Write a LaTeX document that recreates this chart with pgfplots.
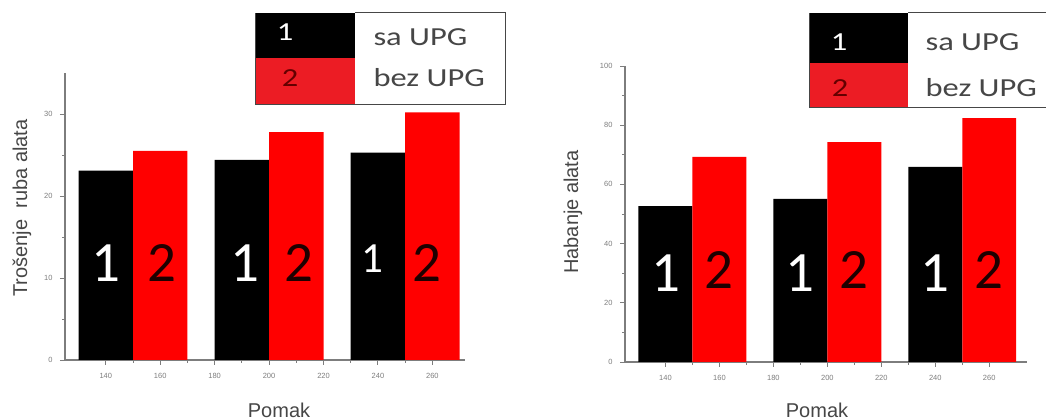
\documentclass[border=0pt]{standalone}
\usepackage{fontspec}
\setmainfont{Liberation Sans}
\newfontfamily\calf{Carlito}
\newfontfamily\calw{Carlito}[FakeStretch=1.25]
\usepackage{pgfplots}
\pgfplotsset{compat=1.18}
\definecolor{barred}{RGB}{255,0,0}
\definecolor{legred}{RGB}{236,28,36}
\definecolor{darkred}{RGB}{100,0,0}
\definecolor{digdark}{RGB}{30,0,0}
\definecolor{axgray}{RGB}{125,125,125}
\definecolor{labgray}{RGB}{70,70,70}
\pgfplotsset{mystyle/.style={
  scale only axis, anchor=south west,
  axis x line*=bottom, axis y line*=left,
  axis line style={axgray, line width=1.2pt},
  tick style={axgray, line width=0.9pt},
  tick align=outside,
  major tick length=5pt, minor tick length=3pt,
  xmin=125, xmax=272,
  xtick={140,160,...,260},
  minor x tick num=1,
  minor y tick num=1,
  tick label style={font=\fontsize{7.5}{8}\selectfont, text=axgray},
  xticklabel style={yshift=-5pt},
  yticklabel style={xshift=-4pt},
  /pgf/number format/assume math mode=true,
  clip=false,
}}
\begin{document}
\begin{tikzpicture}
\useasboundingbox (0pt,0pt) rectangle (1046pt,420pt);
% ---------- left panel
\begin{axis}[mystyle, at={(65pt,60pt)}, width=400pt, height=287pt,
  ymin=0, ymax=35, ytick={0,10,20,30}]
\addplot[ybar, bar width=20, fill=black, draw=none] coordinates {(140,23.1) (190,24.4) (240,25.3)};
\addplot[ybar, bar width=20, fill=barred, draw=none] coordinates {(160,25.5) (210,27.8) (260,30.2)};
\node[text=white, font=\calf\fontsize{57}{57}\selectfont] at (axis cs:140,11.8) {1};
\node[text=digdark, font=\calf\fontsize{57}{57}\selectfont] at (axis cs:160.5,11.8) {2};
\node[text=white, font=\calf\fontsize{57}{57}\selectfont] at (axis cs:191,11.8) {1};
\node[text=digdark, font=\calf\fontsize{57}{57}\selectfont] at (axis cs:211,11.8) {2};
\node[text=white, font=\calf\fontsize{43}{43}\selectfont] at (axis cs:238,12.3) {1};
\node[text=digdark, font=\calf\fontsize{57}{57}\selectfont] at (axis cs:258,11.8) {2};
\end{axis}
% ---------- right panel
\begin{axis}[mystyle, at={(625pt,58pt)}, width=402pt, height=296pt,
  xmax=274, ymin=0, ymax=100, ytick={0,20,...,100}]
\addplot[ybar, bar width=20, fill=black, draw=none] coordinates {(140,52.7) (190,55.1) (240,65.9)};
\addplot[ybar, bar width=20, fill=barred, draw=none] coordinates {(160,69.3) (210,74.3) (260,82.4)};
\node[text=white, font=\calf\fontsize{57}{57}\selectfont] at (axis cs:140,30) {1};
\node[text=digdark, font=\calf\fontsize{57}{57}\selectfont] at (axis cs:160,31) {2};
\node[text=white, font=\calf\fontsize{57}{57}\selectfont] at (axis cs:190,30) {1};
\node[text=digdark, font=\calf\fontsize{57}{57}\selectfont] at (axis cs:210,31) {2};
\node[text=white, font=\calf\fontsize{57}{57}\selectfont] at (axis cs:240,30) {1};
\node[text=digdark, font=\calf\fontsize{57}{57}\selectfont] at (axis cs:260,31) {2};
\end{axis}
% ---------- axis titles
\node[rotate=90, text=labgray, font=\fontsize{20}{20}\selectfont] at (22pt,212pt) {Trošenje\ \ ruba alata};
\node[rotate=90, text=labgray, font=\fontsize{20}{20}\selectfont] at (573pt,208pt) {Habanje alata};
\node[text=labgray, font=\fontsize{20}{20}\selectfont] at (279pt,10pt) {Pomak};
\node[text=labgray, font=\fontsize{20}{20}\selectfont] at (817pt,10pt) {Pomak};
% ---------- legends
\fill[black] (255pt,362pt) rectangle (355pt,407pt);
\fill[legred] (255pt,315pt) rectangle (355pt,362pt);
\draw[labgray, line width=1pt] (355pt,407pt) -- (505pt,407pt) -- (505pt,315pt) -- (255pt,315pt) -- (255pt,407pt);
\node[text=white, font=\calw\fontsize{26}{26}\selectfont] at (285pt,388pt) {1};
\node[text=darkred, font=\calw\fontsize{26}{26}\selectfont] at (290pt,342pt) {2};
\node[anchor=west, text=labgray, font=\calw\fontsize{26}{26}\selectfont] at (370pt,383pt) {sa UPG};
\node[anchor=west, text=labgray, font=\calw\fontsize{26}{26}\selectfont] at (370pt,342pt) {bez UPG};
\fill[black] (809pt,357pt) rectangle (908pt,407pt);
\fill[legred] (809pt,312pt) rectangle (908pt,357pt);
\draw[labgray, line width=1pt] (908pt,407pt) -- (1060pt,407pt);
\draw[labgray, line width=1pt] (1060pt,312pt) -- (809pt,312pt) -- (809pt,407pt);
\node[text=white, font=\calw\fontsize{26}{26}\selectfont] at (839pt,378pt) {1};
\node[text=darkred, font=\calw\fontsize{26}{26}\selectfont] at (840pt,332pt) {2};
\node[anchor=west, text=labgray, font=\calw\fontsize{26}{26}\selectfont] at (922pt,378pt) {sa UPG};
\node[anchor=west, text=labgray, font=\calw\fontsize{26}{26}\selectfont] at (922pt,332pt) {bez UPG};
\end{tikzpicture}
\end{document}
